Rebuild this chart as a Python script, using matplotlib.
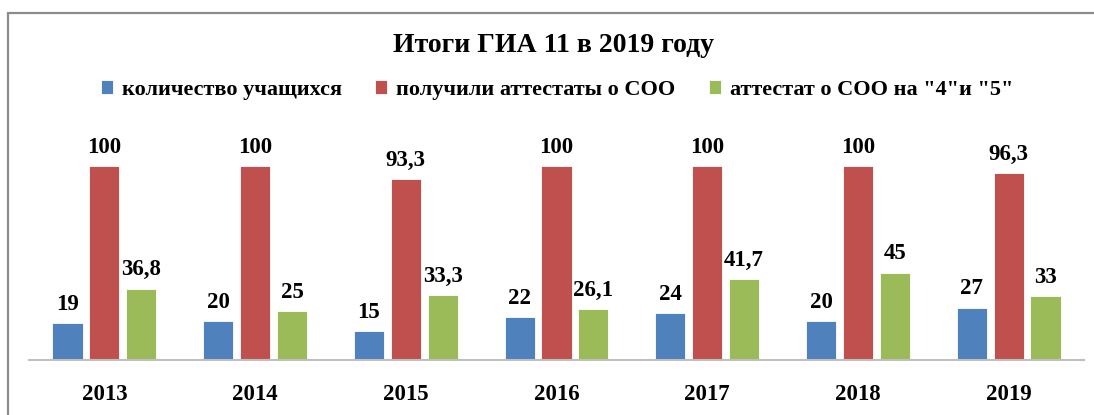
import matplotlib.pyplot as plt
import numpy as np
from matplotlib.patches import Rectangle

years = ['2013', '2014', '2015', '2016', '2017', '2018', '2019']
students = [19, 20, 15, 22, 24, 20, 27]
certificates = [100, 100, 93.3, 100, 100, 100, 96.3]
good_marks = [36.8, 25, 33.3, 26.1, 41.7, 45, 33]
series_names = ['количество учащихся', 'получили аттестаты о СОО', 'аттестат о СОО на "4"и "5"']

plt.rcParams['font.family'] = ['Liberation Serif', 'DejaVu Serif']
plt.rcParams['font.weight'] = 'bold'

colors = ['#4F81BD', '#C0504D', '#9BBB59']
fig = plt.figure(figsize=(10.94, 4.15), dpi=100)
ax = fig.add_axes([29 / 1094, 55 / 415, 1055 / 1094, 240 / 415])

# chart frame (cropped at right and bottom)
fig.patches.append(Rectangle((8 / 1094, -0.1), 1.2, (415 - 13) / 415 + 0.1,
                             transform=fig.transFigure, fill=False,
                             edgecolor='#8c8c8c', linewidth=1.6, clip_on=False))

x = np.arange(len(years))
w = 0.2
step = 0.245
handles = []
for k, (vals, c) in enumerate(zip([students, certificates, good_marks], colors)):
    bars = ax.bar(x + (k - 1) * step, vals, w, color=c, edgecolor='white', linewidth=0.6)
    handles.append(bars)
    for xi, v in zip(x + (k - 1) * step, vals):
        txt = ('%g' % v).replace('.', ',')
        ax.annotate(txt, (xi, v), xytext=(0, 6), textcoords='offset points',
                    ha='center', va='bottom', fontsize=16.5, fontweight='bold')

ax.set_xlim(-0.5, len(years) - 0.5)
ax.set_ylim(0, 123.7)
ax.set_xticks(x)
ax.set_xticklabels(years, fontsize=16.5, fontweight='bold')
ax.tick_params(axis='x', length=0, pad=17)
ax.set_yticks([])
for s in ['top', 'left', 'right']:
    ax.spines[s].set_visible(False)
ax.spines['bottom'].set_color('#bfbfbf')
ax.spines['bottom'].set_linewidth(1.5)

fig.text(554 / 1094, 1 - 45 / 415, 'Итоги ГИА 11 в 2019 году', ha='center', va='center',
         fontsize=20, fontweight='bold')

fig.legend(handles, series_names, loc='center', bbox_to_anchor=(557 / 1094, 1 - 90 / 415),
           ncol=3, frameon=False, prop={'size': 16, 'weight': 'bold'},
           handlelength=0.55, handleheight=0.55, handletextpad=0.4, columnspacing=1.5)

plt.savefig('out.png', dpi=100)
